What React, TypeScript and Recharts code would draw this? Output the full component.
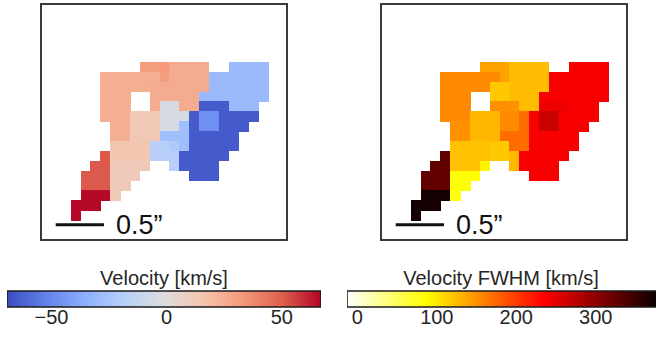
import React from 'react';
import { ScatterChart, Scatter, XAxis, YAxis, ReferenceLine, BarChart, Bar } from 'recharts';

const _ = null;

// spaxel grid, columns 0..19 left to right, rows 0..15 top to bottom
const velocity: (number | null)[][] = [
  [_, _, _, _, _, _, _, 32, 32, 33, 26, 26, 26, 26, _, _, -30, -30, -30, -30],
  [_, _, _, 25, 25, 25, 25, 25, 25, 32, 26, 26, 26, 26, -30, -30, -30, -30, -30, -30],
  [_, _, _, 25, 25, 25, 25, 25, 26, 26, 26, 26, 26, 26, -30, -30, -30, -30, -30, -30],
  [_, _, _, 25, 25, 25, _, _, 26, 26, 26, 26, 26, -30, -30, -30, -30, -30, -30, -30],
  [_, _, _, 25, 25, 25, _, _, 26, -5, -5, 26, 26, -65, -65, -65, -30, -30, -30, _],
  [_, _, _, 25, 25, 25, 13, 13, 13, -5, -5, -5, -65, -47, -47, -65, -65, -65, -65, _],
  [_, _, _, _, 25, 25, 13, 13, 13, -5, -5, -28, -65, -47, -47, -65, -65, -65, _, _],
  [_, _, _, _, 25, 25, 13, 13, 13, -28, -28, -28, -65, -65, -65, -65, -65, _, _, _],
  [_, _, _, _, 14, 14, 14, 14, -18, -18, -22, -28, -65, -65, -65, -65, -65, _, _, _],
  [_, _, _, 51, 14, 14, 14, 14, -18, -18, -18, -65, -65, -65, -65, -65, _, _, _, _],
  [_, _, 51, 51, 12, 12, 12, 12, _, _, -18, -65, -65, -65, -65, _, _, _, _, _],
  [_, 51, 51, 51, 12, 12, 12, _, _, _, _, _, -65, -65, -65, _, _, _, _, _],
  [_, 51, 51, 51, 12, 12, _, _, _, _, _, _, _, _, _, _, _, _, _, _],
  [_, 66, 66, 66, 12, _, _, _, _, _, _, _, _, _, _, _, _, _, _, _],
  [66, 66, 66, _, _, _, _, _, _, _, _, _, _, _, _, _, _, _, _, _],
  [66, _, _, _, _, _, _, _, _, _, _, _, _, _, _, _, _, _, _, _],
];

const fwhm: (number | null)[][] = [
  [_, _, _, _, _, _, _, 140, 140, 140, 125, 125, 125, 125, _, _, 238, 238, 238, 238],
  [_, _, _, 155, 155, 155, 155, 155, 155, 140, 125, 125, 125, 125, 238, 238, 238, 238, 238, 238],
  [_, _, _, 155, 155, 155, 155, 155, 118, 118, 125, 125, 125, 125, 238, 238, 238, 238, 238, 238],
  [_, _, _, 155, 155, 155, _, _, 118, 118, 125, 125, 125, 238, 238, 238, 238, 238, 238, 238],
  [_, _, _, 155, 155, 155, _, _, 150, 150, 150, 125, 125, 244, 244, 244, 238, 238, 238, _],
  [_, _, _, 155, 155, 155, 128, 128, 128, 155, 155, 172, 238, 265, 265, 238, 238, 238, 238, _],
  [_, _, _, _, 150, 150, 128, 128, 128, 155, 155, 172, 238, 265, 265, 238, 238, 238, _, _],
  [_, _, _, _, 150, 150, 128, 128, 128, 172, 172, 172, 238, 238, 238, 238, 238, _, _, _],
  [_, _, _, _, 122, 122, 122, 122, 118, 118, 172, 172, 238, 238, 238, 238, 238, _, _, _],
  [_, _, _, 326, 122, 122, 122, 122, 118, 118, 128, 238, 238, 238, 238, 238, _, _, _, _],
  [_, _, 326, 326, 122, 122, 122, 92, _, _, 128, 238, 238, 238, 238, _, _, _, _, _],
  [_, 326, 326, 326, 85, 85, 85, _, _, _, _, _, 238, 238, 238, _, _, _, _, _],
  [_, 326, 326, 326, 85, 85, _, _, _, _, _, _, _, _, _, _, _, _, _, _],
  [_, 372, 372, 372, 80, _, _, _, _, _, _, _, _, _, _, _, _, _, _, _],
  [372, 372, 372, _, _, _, _, _, _, _, _, _, _, _, _, _, _, _, _, _],
  [372, _, _, _, _, _, _, _, _, _, _, _, _, _, _, _, _, _, _, _],
];

const velRange = [-69.3, 67];
const velTicks = [-50, 0, 50];
const fwhmRange = [-13, 377];
const fwhmTicks = [0, 100, 200, 300];
const scaleBarLabel = '0.5\u201D';

// map geometry (in spaxel units)
const MAP_W = 244;
const MAP_H = 234;
const X_DOMAIN: [number, number] = [-3.408, 21.314];
const Y_DOMAIN: [number, number] = [-6.275, 17.433];
const CELL = MAP_W / (X_DOMAIN[1] - X_DOMAIN[0]);
const BAR_X = [-2.02, 2.87];
const BAR_Y = 16.0;

const FONT = '"Liberation Sans", Arial, Helvetica, sans-serif';

const COOLWARM: [number, string][] = [
  [0, '#3b4cc0'],
  [0.125, '#6282ea'],
  [0.25, '#8db0fe'],
  [0.375, '#b8d0f9'],
  [0.5, '#dddddd'],
  [0.625, '#f5c4ad'],
  [0.75, '#f49a7b'],
  [0.875, '#de604d'],
  [1, '#b40426'],
];

const HOT_R: [number, string][] = [
  [0, '#ffffff'],
  [0.254, '#ffff00'],
  [0.635, '#ff0000'],
  [1, '#0b0000'],
];

const hex = (h: string) => [1, 3, 5].map((i) => parseInt(h.slice(i, i + 2), 16));

function sample(stops: [number, string][], t: number) {
  const tt = Math.max(0, Math.min(1, t));
  for (let i = 1; i < stops.length; i++) {
    if (tt <= stops[i][0]) {
      const [t0, c0] = stops[i - 1];
      const [t1, c1] = stops[i];
      const f = (tt - t0) / (t1 - t0);
      const a = hex(c0);
      const b = hex(c1);
      const rgb = a.map((v, k) => Math.round(v + (b[k] - v) * f));
      return `rgb(${rgb.join(',')})`;
    }
  }
  return stops[stops.length - 1][1];
}

const toCells = (grid: (number | null)[][]) =>
  grid.flatMap((row, r) =>
    row.flatMap((v, c) => (v == null ? [] : [{ col: c, row: r, v }]))
  );

function SpaxelMap({ left, grid, stops, range }: any) {
  const cells = toCells(grid);
  const color = (v: number) => sample(stops, (v - range[0]) / (range[1] - range[0]));
  return (
    <div
      style={{
        position: 'absolute',
        left,
        top: 3,
        width: MAP_W + 4,
        height: MAP_H + 4,
        border: '2px solid #3a3a3a',
        boxSizing: 'border-box',
      }}
    >
      <ScatterChart width={MAP_W} height={MAP_H} margin={{ top: 0, right: 0, bottom: 0, left: 0 }}>
        <XAxis type="number" dataKey="col" domain={X_DOMAIN} allowDataOverflow hide />
        <YAxis type="number" dataKey="row" domain={Y_DOMAIN} allowDataOverflow reversed hide />
        <Scatter
          data={cells}
          isAnimationActive={false}
          shape={(p: any) => (
            <rect
              x={p.cx - CELL / 2}
              y={p.cy - CELL / 2}
              width={CELL + 0.6}
              height={CELL + 0.6}
              fill={color(p.payload.v)}
              shapeRendering="crispEdges"
            />
          )}
        />
        <ReferenceLine
          segment={[
            { x: BAR_X[0], y: BAR_Y },
            { x: BAR_X[1], y: BAR_Y },
          ]}
          stroke="#111"
          strokeWidth={3}
          label={{
            value: scaleBarLabel,
            position: 'right',
            offset: 12,
            fill: '#111',
            fontSize: 27,
            fontFamily: FONT,
          }}
        />
      </ScatterChart>
    </div>
  );
}

function ColorBar({ left, width, id, stops, range, ticks, title, titleCenter }: any) {
  const data = [{ name: 'cb', span: range }];
  return (
    <>
      <div
        style={{
          position: 'absolute',
          left: titleCenter - 160,
          width: 320,
          top: 268,
          textAlign: 'center',
          fontSize: 20,
          lineHeight: '20px',
          color: '#262626',
          whiteSpace: 'nowrap',
        }}
      >
        {title}
      </div>
      <div style={{ position: 'absolute', left, top: 290 }}>
        <BarChart
          width={width}
          height={46}
          data={data}
          layout="vertical"
          barCategoryGap={0}
          margin={{ top: 1, right: 2, bottom: 0, left: 2 }}
        >
          <defs>
            <linearGradient id={id} x1="0" y1="0" x2="1" y2="0">
              {stops.map(([t, c]: [number, string]) => (
                <stop key={t} offset={t} stopColor={c} />
              ))}
            </linearGradient>
          </defs>
          <XAxis
            type="number"
            domain={range}
            ticks={ticks}
            allowDataOverflow
            axisLine={false}
            tickLine={false}
            tickSize={2}
            tickMargin={1}
            height={29}
            interval={0}
            tick={{ fill: '#262626', fontSize: 20, fontFamily: FONT }}
            tickFormatter={(v: number) => String(v).replace('-', '\u2212')}
          />
          <YAxis type="category" dataKey="name" hide />
          <Bar dataKey="span" fill={`url(#${id})`} stroke="#1a1a1a" strokeWidth={1.5} isAnimationActive={false} />
        </BarChart>
      </div>
    </>
  );
}

export default function App() {
  return (
    <div
      style={{
        position: 'fixed',
        left: 0,
        top: 0,
        width: 656,
        height: 337,
        overflow: 'hidden',
        background: '#fff',
        fontFamily: FONT,
      }}
    >
      <SpaxelMap left={40} grid={velocity} stops={COOLWARM} range={velRange} />
      <SpaxelMap left={380} grid={fwhm} stops={HOT_R} range={fwhmRange} />
      <ColorBar
        left={5}
        width={318}
        id="velGrad"
        stops={COOLWARM}
        range={velRange}
        ticks={velTicks}
        title="Velocity [km/s]"
        titleCenter={164}
      />
      <ColorBar
        left={345}
        width={314}
        id="fwhmGrad"
        stops={HOT_R}
        range={fwhmRange}
        ticks={fwhmTicks}
        title="Velocity FWHM [km/s]"
        titleCenter={501}
      />
    </div>
  );
}
